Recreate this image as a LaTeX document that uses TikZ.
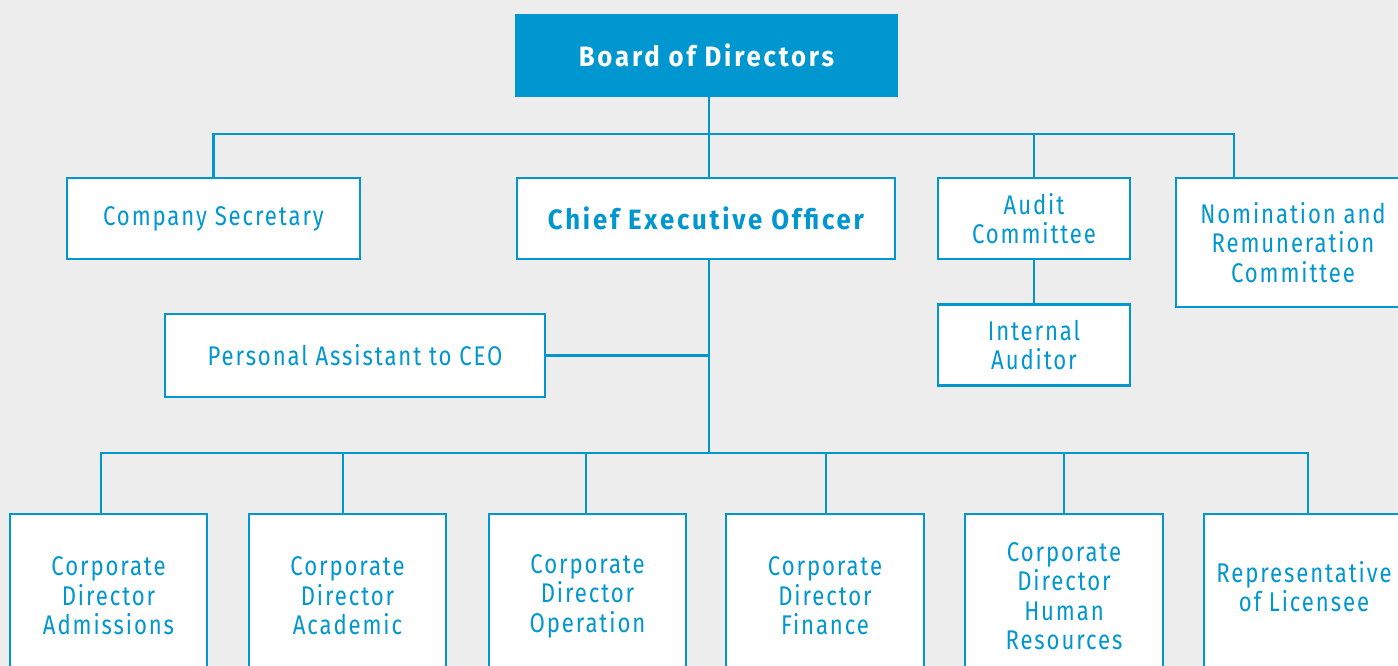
\documentclass[tikz,border=0pt]{standalone}
\usepackage{fontspec}
\setmainfont[FakeStretch=0.82,LetterSpace=7,
	BoldFeatures={FakeStretch=0.92,LetterSpace=10}]{Fira Sans}
\usetikzlibrary{positioning}
\definecolor{orgblue}{RGB}{0,150,208}
\definecolor{orgback}{RGB}{237,237,237}

\begin{document}
\begin{tikzpicture}[
					x=1pt, y=-1pt,
					box/.style={rectangle,draw=orgblue,fill=white,line width=2.5pt,
						text=orgblue,align=center,inner sep=0pt,
						font=\fontsize{27}{29.5}\selectfont},
					wide/.style={box,minimum width=197pt,minimum height=164pt},
					link/.style={draw=orgblue,line width=2.5pt},
					]
					\useasboundingbox (0,0) rectangle (1398,666);
					\clip (0,0) rectangle (1398,666);
					\fill[orgback] (0,0) rectangle (1398,666);
					\node [rectangle,fill=orgblue,text=white,minimum width=383pt,minimum height=83pt,
						font=\fontsize{28}{30}\selectfont\bfseries] (board) at (706.5,55.5) {Board of Directors};
					\node [box,minimum width=293pt,minimum height=81pt] (secretary) at (213.5,218.5) {Company Secretary};
					\node [box,minimum width=378pt,minimum height=81pt,font=\fontsize{28}{30}\selectfont\bfseries] (ceo) at (706,218.5) {Chief Executive Officer};
					\node [box,minimum width=192pt,minimum height=81pt] (audit) at (1034,218.5) {Audit\\Committee};
					\node [box,minimum width=234pt,minimum height=129pt] (nomination) at (1293,242.5) {Nomination and\\Remuneration\\Committee};
					\node [box,minimum width=192pt,minimum height=81pt,below=43pt of audit] (auditor) {Internal\\Auditor};
					\node [box,minimum width=380pt,minimum height=83pt] (assistant) at (355,355.5) {Personal Assistant to CEO};
					\node [wide] (admissions) at (108.5,596) {Corporate\\Director\\Admissions};
					\node [wide] (academic) at (347.5,596) {Corporate\\Director\\Academic};
					\node [wide] (operation) at (587.5,596) {Corporate\\Director\\Operation};
					\node [wide,minimum width=198pt] (finance) at (825,596) {Corporate\\Director\\Finance};
					\node [wide,minimum width=198pt] (hr) at (1064,596) {Corporate\\Director\\Human\\Resources};
					\node [wide,minimum width=200pt,text depth=19pt] (licensee) at (1304,596) {Representative\\of Licensee};
					% buses
					\coordinate (topbus) at (709,134);
					\coordinate (lowbus) at (709,453);
					\coordinate (nomdrop) at (1234,177);
					\draw[link] (board.south -| topbus) -- (topbus);
					\foreach \n in {secretary,audit}
						\draw[link] (\n.north) |- (topbus);
					\draw[link] (nomdrop) |- (topbus) -- (ceo.north -| topbus);
					\draw[link] (audit) -- (auditor);
					\draw[link] (ceo.south -| lowbus) -- (lowbus);
					\draw[link] (assistant.east) -- (assistant.east -| lowbus);
					\foreach \n/\d in {admissions/-7.5,academic/-4.5,operation/-1.5,finance/1,hr/0,licensee/4}
						\draw[link] ([xshift=\d pt]\n.north) |- (lowbus);
				\end{tikzpicture}
\end{document}
